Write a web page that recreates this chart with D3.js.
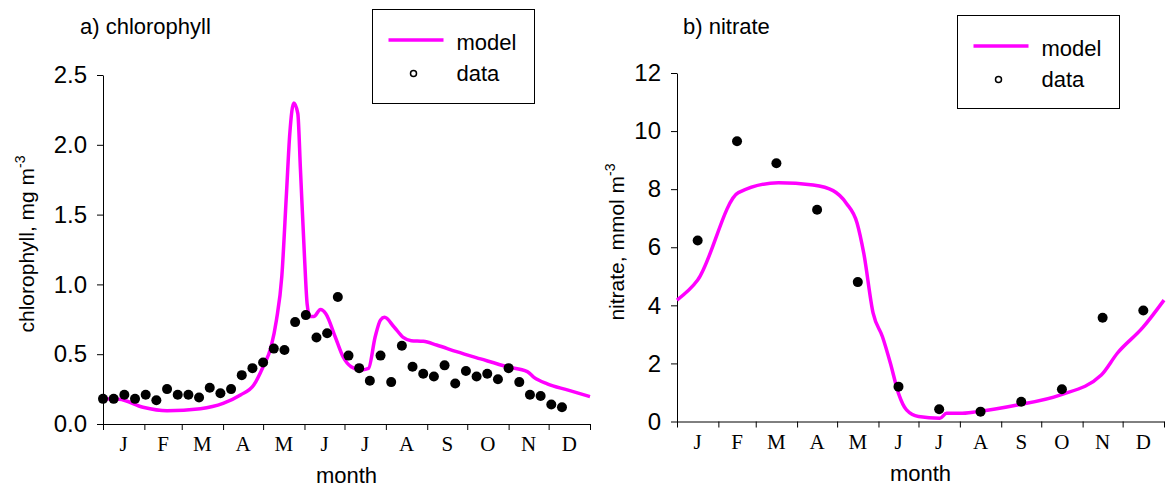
<!DOCTYPE html>
<html lang="en">
<head>
<meta charset="UTF-8">
<title>Chlorophyll and nitrate: model vs data</title>
<script src="https://d3js.org/d3.v7.min.js"></script>
<style>
  body { margin: 0; background: #fff; }
  svg text { font-family: "Liberation Sans", Arial, sans-serif; fill: #000; }
  .month-label { font-family: "Liberation Serif", "Times New Roman", serif; font-size: 21px; }
  .tick text { font-size: 24px; }
  .axis path, .axis line { stroke: #000; stroke-width: 1; }
</style>
</head>
<body>
<div id="chart"></div>
<script>
// months and their boundaries (day of year)
const months = ["J", "F", "M", "A", "M", "J", "J", "A", "S", "O", "N", "D"];
const monthEdges = [0, 31, 59, 90, 120, 151, 181, 212, 243, 273, 304, 334, 365];

// a) chlorophyll, 8-day data
const chlDays = [0, 8, 16, 24, 32, 40, 48, 56, 64, 72, 80, 88, 96, 104, 112, 120, 128, 136, 144, 152, 160, 168,
  176, 184, 192, 200, 208, 216, 224, 232, 240, 248, 256, 264, 272, 280, 288, 296, 304, 312, 320, 328, 336, 344];
const chlData = [0.18, 0.18, 0.21, 0.18, 0.21, 0.17, 0.25, 0.21, 0.21, 0.19, 0.26, 0.22, 0.25, 0.35, 0.40, 0.44,
  0.54, 0.53, 0.73, 0.78, 0.62, 0.65, 0.91, 0.49, 0.40, 0.31, 0.49, 0.30, 0.56, 0.41, 0.36, 0.34, 0.42, 0.29,
  0.38, 0.34, 0.36, 0.32, 0.40, 0.30, 0.21, 0.20, 0.14, 0.12];
// a) chlorophyll, model
const chlModelDays = [0, 12, 30, 48, 73, 90, 103, 113, 120, 126, 130, 134, 137.5, 140, 143, 146, 148, 151, 153,
  155, 158, 163, 167, 174, 180, 186, 193, 199, 204, 208, 211, 218, 225, 231, 240, 250, 265, 283, 303, 318, 323,
  333, 348, 365];
const chlModel = [0.18, 0.177, 0.12, 0.095, 0.11, 0.148, 0.208, 0.279, 0.41, 0.554, 0.745, 1.055, 1.65, 2.08, 2.30,
  2.225, 1.82, 1.2, 0.86, 0.77, 0.77, 0.82, 0.79, 0.625, 0.48, 0.41, 0.387, 0.399, 0.625, 0.745, 0.764, 0.697,
  0.621, 0.597, 0.592, 0.566, 0.518, 0.466, 0.41, 0.375, 0.334, 0.287, 0.244, 0.196];
const chlTicks = [0, 0.5, 1.0, 1.5, 2.0, 2.5];

// b) nitrate, monthly data (mid-month)
const nitData = [6.23, 9.65, 8.89, 7.29, 4.80, 1.20, 0.42, 0.34, 0.68, 1.11, 3.57, 3.82];
// b) nitrate, model
const nitModelDays = [0, 15.5, 46, 76, 102, 117, 127, 135, 140, 147, 154, 160, 166, 172, 181, 197, 202, 212, 225,
  255, 287, 318, 330, 349, 365];
const nitModel = [4.18, 4.87, 7.88, 8.22, 8.14, 7.95, 7.51, 6.83, 5.79, 3.73, 2.92, 2.00, 0.97, 0.40, 0.17, 0.11,
  0.28, 0.28, 0.34, 0.57, 0.91, 1.60, 2.35, 3.23, 4.18];
const nitTicks = [0, 2, 4, 6, 8, 10, 12];

const monthMid = months.map((m, i) => (monthEdges[i] + monthEdges[i + 1]) / 2);

const svg = d3.select("#chart").append("svg")
  .attr("width", 1167)
  .attr("height", 488);

function drawPanel(p) {
  const x = d3.scaleLinear().domain([0, 365]).range([p.left, p.right]);
  const y = d3.scaleLinear().domain([0, p.yMax]).range([p.bottom, p.top]);
  const g = svg.append("g");

  // axes
  g.append("g").attr("class", "axis")
    .attr("transform", `translate(0,${p.bottom})`)
    .call(d3.axisBottom(x).tickValues(monthEdges).tickFormat("").tickSize(6).tickSizeOuter(0));
  g.append("g").attr("class", "axis")
    .attr("transform", `translate(${p.left},0)`)
    .call(d3.axisLeft(y).tickValues(p.ticks).tickFormat(d3.format(p.fmt)).tickSize(6).tickSizeOuter(0).tickPadding(10));

  // month letters
  g.selectAll(".month-label").data(months).join("text")
    .attr("class", "month-label")
    .attr("x", (d, i) => x(monthMid[i]))
    .attr("y", p.bottom + 27)
    .attr("text-anchor", "middle")
    .text(d => d);

  // model line
  const line = d3.line()
    .x((d, i) => x(p.modelDays[i]))
    .y(d => y(d))
    .curve(d3.curveMonotoneX);
  g.append("path")
    .datum(p.model)
    .attr("d", line)
    .attr("fill", "none")
    .attr("stroke", "#ff00ff")
    .attr("stroke-width", 3.5);

  // data points
  g.selectAll(".pt").data(p.data).join("circle")
    .attr("class", "pt")
    .attr("cx", (d, i) => x(p.dataDays[i]))
    .attr("cy", d => y(d))
    .attr("r", 5)
    .attr("fill", "#000");

  // panel title
  g.append("text")
    .attr("x", p.titleX).attr("y", 34)
    .attr("font-size", 22)
    .text(p.title);

  // x title
  g.append("text")
    .attr("x", (p.left + p.right) / 2).attr("y", p.bottom + 59)
    .attr("text-anchor", "middle")
    .attr("font-size", 22)
    .text("month");

  // y title
  const yt = g.append("text")
    .attr("transform", `translate(${p.yTitleX},${p.yTitleY}) rotate(-90)`)
    .attr("text-anchor", "middle")
    .attr("font-size", 21);
  yt.append("tspan").text(p.yTitle);
  yt.append("tspan").attr("font-size", 14).attr("dy", -9).text("-3");

  // legend
  const lg = g.append("g").attr("transform", `translate(${p.legX},${p.legY})`);
  lg.append("rect")
    .attr("width", p.legW).attr("height", p.legH)
    .attr("fill", "#fff").attr("stroke", "#000").attr("stroke-width", 1);
  lg.append("line")
    .attr("x1", 16).attr("x2", 71).attr("y1", 30.5).attr("y2", 30.5)
    .attr("stroke", "#ff00ff").attr("stroke-width", 3.5);
  lg.append("circle")
    .attr("cx", 41).attr("cy", 64).attr("r", 3)
    .attr("fill", "#fff").attr("stroke", "#000").attr("stroke-width", 1.5);
  lg.append("text").attr("x", 84).attr("y", 40).attr("font-size", 22).text("model");
  lg.append("text").attr("x", 84).attr("y", 71.5).attr("font-size", 22).text("data");
}

drawPanel({
  left: 103, right: 590, top: 75, bottom: 424, yMax: 2.5,
  ticks: chlTicks, fmt: ".1f",
  modelDays: chlModelDays, model: chlModel,
  dataDays: chlDays, data: chlData,
  title: "a) chlorophyll", titleX: 80,
  yTitle: "chlorophyll, mg m", yTitleX: 34, yTitleY: 244,
  legX: 372.5, legY: 9.5, legW: 162, legH: 94
});

drawPanel({
  left: 677, right: 1164, top: 73, bottom: 421.5, yMax: 12,
  ticks: nitTicks, fmt: "d",
  modelDays: nitModelDays, model: nitModel,
  dataDays: monthMid, data: nitData,
  title: "b) nitrate", titleX: 683,
  yTitle: "nitrate, mmol m", yTitleX: 624, yTitleY: 242,
  legX: 957.5, legY: 15.5, legW: 162, legH: 93
});
</script>
</body>
</html>
